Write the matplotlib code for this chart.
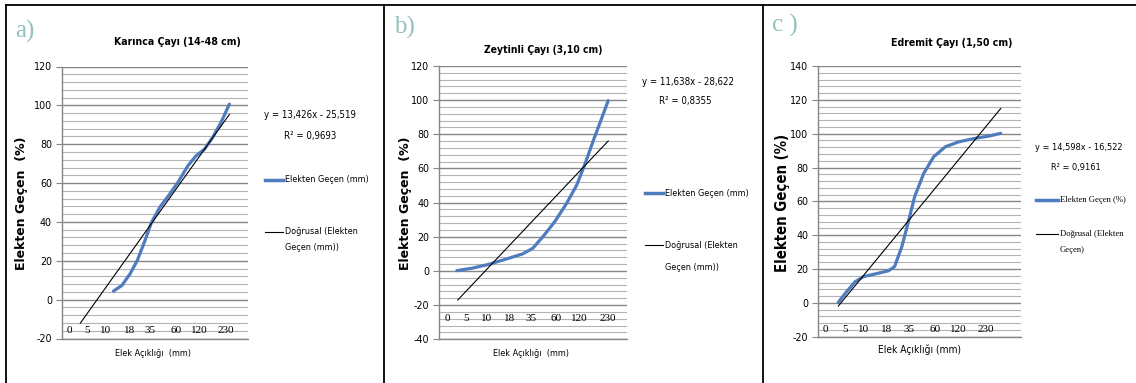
import numpy as np
import matplotlib
matplotlib.use("Agg")
import matplotlib.pyplot as plt
from matplotlib import font_manager
from matplotlib.font_manager import FontProperties
from matplotlib.lines import Line2D
from matplotlib.ticker import MultipleLocator

plt.rcParams["axes.unicode_minus"] = False

W, H = 1136, 383

# ---- veriler ----
basliklar = ["Karınca Çayı (14-48 cm)", "Zeytinli Çayı (3,10 cm)", "Edremit Çayı (1,50 cm)"]
harfler = ["a)", "b)", "c )"]
elek = ["0", "5", "10", "18", "35", "60", "120", "230"]
seri_adlari = ["Elekten Geçen (mm)", "Elekten Geçen (mm)", "Elekten Geçen (%)"]
trend_adlari = [("Doğrusal (Elekten", "Geçen (mm))"),
                ("Doğrusal (Elekten", "Geçen (mm))"),
                ("Doğrusal (Elekten", "Geçen)")]

karinca_x = [2.78, 3.23, 3.67, 4.06, 4.47, 4.82, 5.27, 5.8, 6.24, 6.78, 7.22, 7.67, 8.1, 8.55, 9.0]
karinca_y = [4.4, 7.3, 13.3, 20.2, 30.4, 39.8, 47.6, 54.4, 60.4, 69.0, 74.1, 77.5, 83.5, 91.2, 100.6]
zeytinli_x = [0.95, 1.75, 2.65, 3.55, 4.45, 4.99, 5.53, 6.16, 6.79, 7.33, 7.78, 8.22, 8.62, 9.0]
zeytinli_y = [0.2, 1.6, 3.9, 6.9, 10.0, 13.3, 20.1, 28.9, 39.6, 50.4, 63.1, 76.7, 88.4, 99.7]
edremit_x = [1.0, 1.41, 1.83, 2.24, 2.82, 3.48, 3.77, 4.13, 4.43, 4.76, 5.21, 5.7, 6.28, 6.94, 7.77, 8.43, 9.0]
edremit_y = [0.3, 6.6, 12.5, 15.5, 17.1, 19.0, 21.4, 33.2, 47.0, 62.7, 76.6, 86.4, 92.3, 95.2, 97.3, 98.6, 100.2]

egim = [13.426, 11.638, 14.598]
sabit = [-25.519, -28.622, -16.522]
r2 = [0.9693, 0.8355, 0.9161]
trend_x = [1, 9]

# ---- fontlar: dar (condensed) bir yazı tipi varsa onu kullan ----
def dar_bul(kalin):
    for ad in ["Liberation Sans Narrow", "Noto Sans", "DejaVu Sans", "Roboto", "Open Sans"]:
        for f in font_manager.fontManager.ttflist:
            w = f.weight if isinstance(f.weight, int) else (700 if f.weight == "bold" else 400)
            if (f.name in (ad, ad + " Condensed", ad + " Narrow")
                    and f.stretch in ("condensed", "semi-condensed")
                    and f.style == "normal"
                    and ((w >= 600) if kalin else (w == 400))):
                return f.fname
    return None

d_norm, d_kalin = dar_bul(False), dar_bul(True)
if d_norm:
    DAR = FontProperties(fname=d_norm)
    DARB = FontProperties(fname=d_kalin) if d_kalin else FontProperties(fname=d_norm, weight="bold")
    k = 0.96
else:
    DAR = FontProperties(family="Liberation Sans")
    DARB = FontProperties(family="Liberation Sans", weight="bold")
    k = 1.0
SERIF = "Liberation Serif"

def fp(base, boy):
    p = base.copy()
    p.set_size(boy * k)
    return p

MAVI = "#4f7bbf"

def fx(p):
    return p / W
def fy(p):
    return 1 - p / H

fig = plt.figure(figsize=(W / 100, H / 100), dpi=100)
fig.patch.set_facecolor("white")

paneller = [
    dict(x0=61.7, x1=248, yt=66.5, yb=338.5, ymin=-20, ymax=120, lx=[0.41, 1.36, 2.33, 3.63, 4.73, 6.12, 7.4, 8.82], ly=-15.8),
    dict(x0=439, x1=627, yt=66, yb=339.3, ymin=-40, ymax=120, lx=[0.47, 1.43, 2.51, 3.73, 4.9, 6.25, 7.47, 9.0], ly=-28),
    dict(x0=818, x1=1021, yt=66, yb=336.7, ymin=-20, ymax=140, lx=[0.34, 1.33, 2.24, 3.39, 4.47, 5.79, 6.89, 8.26], ly=-16),
]
seriler = [(karinca_x, karinca_y), (zeytinli_x, zeytinli_y), (edremit_x, edremit_y)]

for i, p in enumerate(paneller):
    ax = fig.add_axes([fx(p["x0"]), fy(p["yb"]), (p["x1"] - p["x0"]) / W, (p["yb"] - p["yt"]) / H])
    ax.set_xlim(0, 10)
    ax.set_ylim(p["ymin"], p["ymax"])
    ax.yaxis.set_major_locator(MultipleLocator(20))
    ax.yaxis.set_minor_locator(MultipleLocator(4))
    ax.grid(which="major", axis="y", color="#868686", lw=1.0)
    ax.grid(which="minor", axis="y", color="#b3b3b3", lw=0.8)
    ax.set_axisbelow(True)
    ax.set_xticks([])
    ax.tick_params(axis="y", which="major", length=4, width=0.8, color="#868686", pad=3)
    ax.tick_params(axis="y", which="minor", length=0)
    for lab in ax.get_yticklabels():
        lab.set_fontproperties(fp(DAR, 8.0))
    for s in ["top", "right"]:
        ax.spines[s].set_visible(False)
    for s in ["left", "bottom"]:
        ax.spines[s].set_color("#868686")
        ax.spines[s].set_linewidth(1.0)

    bx, by = seriler[i]
    ax.plot(bx, by, color=MAVI, lw=2.3, solid_joinstyle="round", solid_capstyle="round", zorder=3)
    ty = [egim[i] * t + sabit[i] for t in trend_x]
    ax.plot(trend_x, ty, color="black", lw=0.8, zorder=4)

    for pos, et in zip(p["lx"], elek):
        ax.text(pos, p["ly"], et, ha="center", va="center", fontsize=8, family=SERIF)

# ---- yazılar ----
yazi = [
    dict(h=(25, 31), t=(177, 42), yl=(22, 203), xl=(153, 353), eq=(310, 115), r=(310, 136),
         lb=(265, 283, 180), lk=(265, 283, 232), l2=248),
    dict(h=(404, 27), t=(543, 50), yl=(405, 203), xl=(531, 353), eq=(688, 82), r=(685, 101),
         lb=(645, 663, 193), lk=(645, 663, 245), l2=267),
    dict(h=(785, 25), t=(952, 43), yl=(782, 203), xl=(919, 350), eq=(1079, 147), r=(1076, 167),
         lb=(1036, 1058, 200), lk=(1036, 1058, 234), l2=250),
]
baslik_boy = [7.9, 7.8, 7.9]

for i, y in enumerate(yazi):
    fig.text(fx(y["h"][0]), fy(y["h"][1]), harfler[i], ha="center", va="center",
             fontsize=18, family=SERIF, color="#93c1bf")
    fig.text(fx(y["t"][0]), fy(y["t"][1]), basliklar[i], ha="center", va="center",
             fontproperties=fp(DARB, baslik_boy[i]))
    if i < 2:
        fig.text(fx(y["yl"][0]), fy(y["yl"][1]), "Elekten Geçen  (%)", ha="center", va="center",
                 rotation=90, fontsize=9, family="DejaVu Sans", weight="bold")
        fig.text(fx(y["xl"][0]), fy(y["xl"][1]), "Elek Açıklığı  (mm)", ha="center", va="center",
                 fontproperties=fp(DAR, 6.8))
    else:
        fig.text(fx(y["yl"][0]), fy(y["yl"][1]), "Elekten Geçen (%)", ha="center", va="center",
                 rotation=90, fontproperties=fp(DARB, 11.2))
        fig.text(fx(y["xl"][0]), fy(y["xl"][1]), "Elek Açıklığı (mm)", ha="center", va="center",
                 fontproperties=fp(DAR, 7.6))
    es = 6.9 if i == 2 else 7.2
    eq = f"y = {egim[i]:.3f}x - {abs(sabit[i]):.3f}".replace(".", ",")
    fig.text(fx(y["eq"][0]), fy(y["eq"][1]), eq, ha="center", va="center", fontproperties=fp(DAR, es))
    fig.text(fx(y["r"][0]), fy(y["r"][1]), f"R² = {r2[i]:.4f}".replace(".", ","),
             ha="center", va="center", fontproperties=fp(DAR, es))

    # lejant
    x0, x1, yy = y["lb"]
    fig.add_artist(Line2D([fx(x0), fx(x1)], [fy(yy), fy(yy)], color=MAVI, lw=2.5))
    if i == 2:
        lp = FontProperties(family=SERIF, size=6.2)
    else:
        lp = fp(DAR, 6.8)
    fig.text(fx(x1 + 2), fy(yy), seri_adlari[i], ha="left", va="center", fontproperties=lp)
    x0, x1, yy = y["lk"]
    fig.add_artist(Line2D([fx(x0), fx(x1)], [fy(yy), fy(yy)], color="black", lw=0.8))
    fig.text(fx(x1 + 2), fy(yy), trend_adlari[i][0], ha="left", va="center", fontproperties=lp)
    fig.text(fx(x1 + 2), fy(y["l2"]), trend_adlari[i][1], ha="left", va="center", fontproperties=lp)

# çerçeve çizgileri
fig.add_artist(Line2D([fx(6), 1], [fy(5), fy(5)], color="black", lw=1.3))
for xp in [6, 384, 762.5]:
    fig.add_artist(Line2D([fx(xp), fx(xp)], [fy(5), 0], color="black", lw=1.3))

plt.savefig("out.png", dpi=100)
